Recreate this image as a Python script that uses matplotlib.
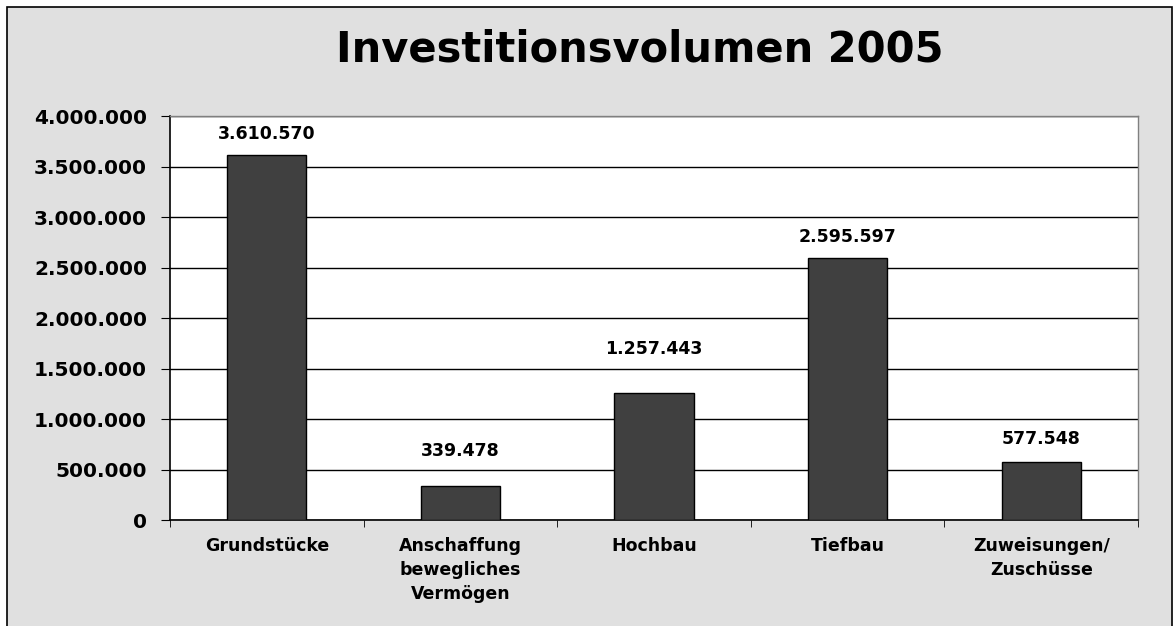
import matplotlib
matplotlib.use("Agg")
import matplotlib.pyplot as plt
from matplotlib.patches import Rectangle
from matplotlib.ticker import FuncFormatter, FixedLocator, MultipleLocator

categories = ["Grundstücke", "Anschaffung\nbewegliches\nVermögen", "Hochbau", "Tiefbau", "Zuweisungen/\nZuschüsse"]
values = [3610570, 339478, 1257443, 2595597, 577548]
title = "Investitionsvolumen 2005"

# vertical offsets (points) of the value labels above the bars, as placed in the original
label_offsets = [15, 25, 32, 15, 16]

def de_fmt(v):
    return f"{int(round(v)):,}".replace(",", ".")

plt.rcParams['font.family'] = ['DejaVu Sans']

fig = plt.figure(figsize=(11.74, 6.26), dpi=100)
fig.patch.set_facecolor("white")
W, H = 1174, 626
bg = Rectangle((7 / W, -0.05), (1172 - 7) / W, (626 - 7) / H + 0.05,
               transform=fig.transFigure, facecolor="#e0e0e0",
               edgecolor="black", linewidth=1.2, zorder=-10)
fig.add_artist(bg)

ax = fig.add_axes([170 / W, 1 - 520 / H, (1138 - 170) / W, (520 - 116) / H])
ax.set_zorder(5)
ax.set_facecolor("white")
x = range(len(categories))
ax.bar(x, values, width=0.41, color="#404040", edgecolor="black", linewidth=1, zorder=3)
ax.set_xlim(-0.5, len(categories) - 0.5)
ax.set_ylim(0, 4000000)
ax.yaxis.set_major_locator(MultipleLocator(500000))
ax.yaxis.set_major_formatter(FuncFormatter(lambda v, p: de_fmt(v)))
ax.grid(axis="y", color="black", linewidth=1, zorder=1)
ax.set_axisbelow(True)
ax.set_xticks(list(x))
ax.set_xticklabels(categories, fontsize=12.5, fontweight="bold", linespacing=1.45)
ax.tick_params(axis="x", which="major", length=0, pad=12)
ax.xaxis.set_minor_locator(FixedLocator([i - 0.5 for i in range(len(categories) + 1)]))
ax.tick_params(axis="x", which="minor", length=5, direction="out", color="black")
ax.tick_params(axis="y", length=6.5, direction="out", pad=10, labelsize=14.5, color="black")
for lab in ax.get_yticklabels():
    lab.set_fontweight("bold")
for s in ["left", "bottom"]:
    ax.spines[s].set_color("black")
    ax.spines[s].set_linewidth(1.2)
for s in ["top", "right"]:
    ax.spines[s].set_color("#808080")
    ax.spines[s].set_linewidth(1)

for xi, v, off in zip(x, values, label_offsets):
    ax.annotate(de_fmt(v), (xi, v), xytext=(0, off), textcoords="offset points",
                ha="center", va="center", fontsize=12.5, fontweight="bold")

fig.text(640 / W, 1 - 50 / H, title, ha="center", va="center", fontsize=30, fontweight="bold")

fig.savefig("out.png", dpi=100, facecolor=fig.get_facecolor())
